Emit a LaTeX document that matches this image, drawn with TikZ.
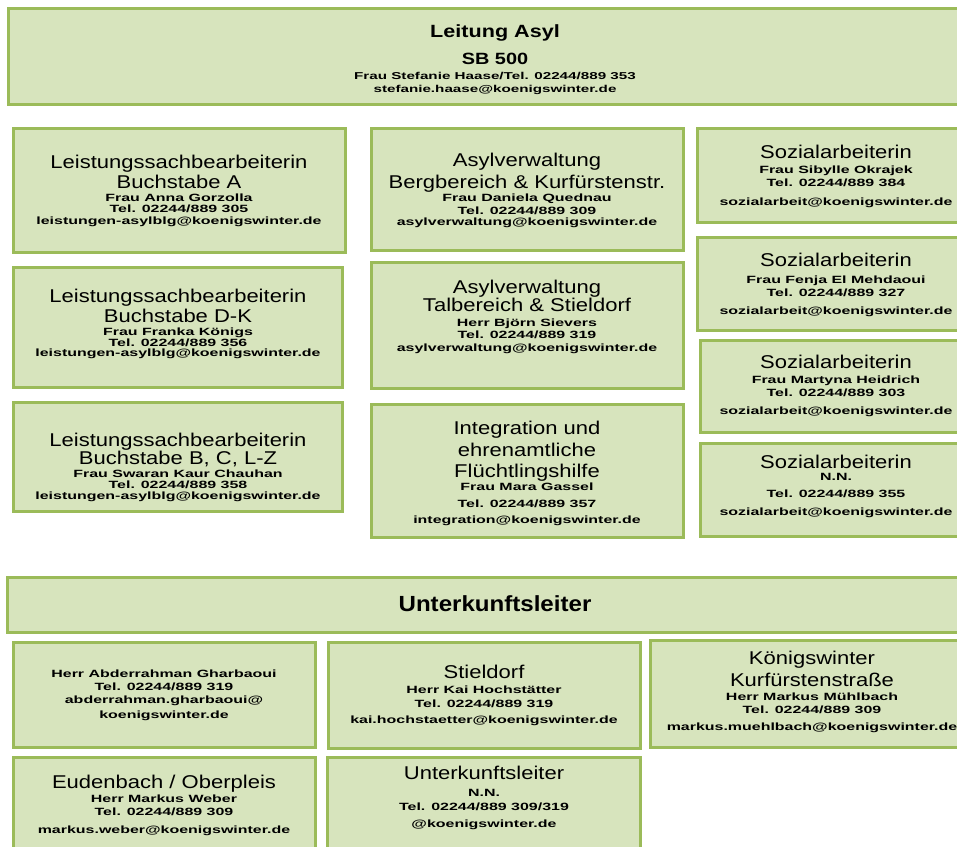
\documentclass[tikz,border=0pt]{standalone}
\usepackage{fontspec}
\setmainfont{Liberation Sans}
\newfontfamily\FBig[FakeStretch=1.19]{Liberation Sans}
\newfontfamily\FSmall[FakeStretch=1.52]{Liberation Sans}
\newfontfamily\FTitle[FakeStretch=1.22]{Liberation Sans}
\newfontfamily\FBar[FakeStretch=1.1]{Liberation Sans}
\definecolor{boxfill}{HTML}{D7E4BD}
\definecolor{boxline}{HTML}{9BBB59}
\newcommand\bigf{\FBig\fontsize{18.5}{18.5}\selectfont}
\newcommand\smf{\FSmall\bfseries\fontsize{10.5}{10.5}\selectfont}
\newcommand\topsmf{\FSmall\bfseries\fontsize{10}{10}\selectfont}
\newcommand\Ln[3]{#2\rule{0pt}{#1pt}\smash{#3}}
\newcommand\Bl[2]{\Ln{#1}{\bigf}{#2}}
\newcommand\Sl[2]{\Ln{#1}{\smf}{#2}}
\newcommand\Stk[1]{\vbox{\offinterlineskip\halign{\hfil##\hfil\cr#1\crcr}}}
\tikzset{
  box/.style={rectangle, draw=boxline, fill=boxfill, line width=3pt, inner sep=0pt, outer sep=0pt, anchor=north west},
  txt/.style={inner sep=0pt, outer sep=0pt, anchor=north, text=black}
}
\begin{document}
\begin{tikzpicture}[x=1pt,y=-1pt]
\fill[white] (0,0) rectangle (957,846);
\useasboundingbox (0,0) rectangle (957,846);

% top box
\node[box, minimum width=975pt, minimum height=96pt] (top) at (8,8) {};
\node[txt] (topt) at (495,25) {\Stk{%
\Ln{12.7}{\FTitle\bfseries\fontsize{17.7}{17.7}\selectfont}{Leitung Asyl}\cr
\Ln{26.7}{\FTitle\bfseries\fontsize{16.3}{16.3}\selectfont}{SB 500}\cr
\Ln{15}{\topsmf}{Frau Stefanie Haase/Tel. 02244/889 353}\cr
\Ln{13}{\topsmf}{stefanie.haase@koenigswinter.de}}};

% left column
\node[box, minimum width=332pt, minimum height=124pt] (L1) at (13,128) {};
\node[txt] (L1t) at (179,155.1) {\Stk{%
\Bl{13.2}{Leistungssachbearbeiterin}\cr
\Bl{20}{Buchstabe A}\cr
\Sl{13}{Frau Anna Gorzolla}\cr
\Sl{11.5}{Tel. 02244/889 305}\cr
\Sl{11.5}{leistungen-asylblg@koenigswinter.de}}};

\node[box, minimum width=329pt, minimum height=120pt] (L2) at (13,267) {};
\node[txt] (L2t) at (178,289.4) {\Stk{%
\Bl{13.2}{Leistungssachbearbeiterin}\cr
\Bl{20}{Buchstabe D-K}\cr
\Sl{12.5}{Frau Franka Königs}\cr
\Sl{11}{Tel. 02244/889 356}\cr
\Sl{10.5}{leistungen-asylblg@koenigswinter.de}}};

\node[box, minimum width=329pt, minimum height=109pt] (L3) at (13,402) {};
\node[txt] (L3t) at (178,433.4) {\Stk{%
\Bl{13.2}{Leistungssachbearbeiterin}\cr
\Bl{18.3}{Buchstabe B, C, L-Z}\cr
\Sl{12.3}{Frau Swaran Kaur Chauhan}\cr
\Sl{11}{Tel. 02244/889 358}\cr
\Sl{11}{leistungen-asylblg@koenigswinter.de}}};

% middle column
\node[box, minimum width=312pt, minimum height=122pt] (M1) at (371,128) {};
\node[txt] (M1t) at (527,153.4) {\Stk{%
\Bl{13.2}{Asylverwaltung}\cr
\Bl{21.7}{Bergbereich \& Kurfürstenstr.}\cr
\Sl{13}{Frau Daniela Quednau}\cr
\Sl{12.7}{Tel. 02244/889 309}\cr
\Sl{11.7}{asylverwaltung@koenigswinter.de}}};

\node[box, minimum width=312pt, minimum height=126pt] (M2) at (371,262) {};
\node[txt] (M2t) at (527,280.1) {\Stk{%
\Bl{13.2}{Asylverwaltung}\cr
\Bl{18.3}{Talbereich \& Stieldorf}\cr
\Sl{15}{Herr Björn Sievers}\cr
\Sl{12.3}{Tel. 02244/889 319}\cr
\Sl{12.7}{asylverwaltung@koenigswinter.de}}};

\node[box, minimum width=312pt, minimum height=133pt] (M3) at (371,404) {};
\node[txt] (M3t) at (527,421.1) {\Stk{%
\Bl{13.2}{Integration und}\cr
\Bl{21.7}{ehrenamtliche}\cr
\Bl{21.7}{Flüchtlingshilfe}\cr
\Sl{13}{Frau Mara Gassel}\cr
\Sl{16.7}{Tel. 02244/889 357}\cr
\Sl{15.7}{integration@koenigswinter.de}}};

% right column
\node[box, minimum width=278pt, minimum height=94pt] (R1) at (697,128) {};
\node[txt] (R1t) at (836,145.1) {\Stk{%
\Bl{13.2}{Sozialarbeiterin}\cr
\Sl{15.3}{Frau Sibylle Okrajek}\cr
\Sl{12.7}{Tel. 02244/889 384}\cr
\Sl{19}{sozialarbeit@koenigswinter.de}}};

\node[box, minimum width=278pt, minimum height=93pt] (R2) at (697,237) {};
\node[txt] (R2t) at (836,253.4) {\Stk{%
\Bl{13.2}{Sozialarbeiterin}\cr
\Sl{17.3}{Frau Fenja El Mehdaoui}\cr
\Sl{12.7}{Tel. 02244/889 327}\cr
\Sl{18}{sozialarbeit@koenigswinter.de}}};

\node[box, minimum width=275pt, minimum height=92pt] (R3) at (700,340) {};
\node[txt] (R3t) at (836,355.1) {\Stk{%
\Bl{13.2}{Sozialarbeiterin}\cr
\Sl{15.6}{Frau Martyna Heidrich}\cr
\Sl{12.7}{Tel. 02244/889 303}\cr
\Sl{18.3}{sozialarbeit@koenigswinter.de}}};

\node[box, minimum width=275pt, minimum height=93pt] (R4) at (700,443) {};
\node[txt] (R4t) at (836,455.1) {\Stk{%
\Bl{13.2}{Sozialarbeiterin}\cr
\Sl{12.3}{N.N.}\cr
\Sl{16.7}{Tel. 02244/889 355}\cr
\Sl{18.3}{sozialarbeit@koenigswinter.de}}};

% Unterkunftsleiter bar
\node[box, minimum width=976pt, minimum height=55pt] (bar) at (7,577) {};
\node[txt] (bart) at (495,595.5) {\Stk{%
\Ln{15.7}{\FBar\bfseries\fontsize{21.9}{21.9}\selectfont}{Unterkunftsleiter}}};

% bottom rows
\node[box, minimum width=302pt, minimum height=105pt] (B1) at (13,642) {};
\node[txt] (B1t) at (164,669.5) {\Stk{%
\Sl{7.5}{Herr Abderrahman Gharbaoui}\cr
\Sl{13.3}{Tel. 02244/889 319}\cr
\Sl{13.3}{abderrahman.gharbaoui@}\cr
\Sl{15}{koenigswinter.de}}};

\node[box, minimum width=312pt, minimum height=106pt] (B2) at (328,642) {};
\node[txt] (B2t) at (484,665.1) {\Stk{%
\Bl{13.2}{Stieldorf}\cr
\Sl{15.6}{Herr Kai Hochstätter}\cr
\Sl{14}{Tel. 02244/889 319}\cr
\Sl{16}{kai.hochstaetter@koenigswinter.de}}};

\node[box, minimum width=324pt, minimum height=107pt] (B3) at (650,640) {};
\node[txt] (B3t) at (812,651.4) {\Stk{%
\Bl{13.2}{Königswinter}\cr
\Bl{22}{Kurfürstenstraße}\cr
\Sl{14}{Herr Markus Mühlbach}\cr
\Sl{13.3}{Tel. 02244/889 309}\cr
\Sl{16.7}{markus.muehlbach@koenigswinter.de}}};

\node[box, minimum width=302pt, minimum height=113pt] (B4) at (13,757) {};
\node[txt] (B4t) at (164,775.1) {\Stk{%
\Bl{13.2}{Eudenbach / Oberpleis}\cr
\Sl{14}{Herr Markus Weber}\cr
\Sl{13.3}{Tel. 02244/889 309}\cr
\Sl{18.3}{markus.weber@koenigswinter.de}}};

\node[box, minimum width=313pt, minimum height=113pt] (B5) at (327,757) {};
\node[txt] (B5t) at (484,766.7) {\Stk{%
\Bl{13.2}{Unterkunftsleiter}\cr
\Sl{16.3}{N.N.}\cr
\Sl{14.3}{Tel. 02244/889 309/319}\cr
\Sl{16.7}{@koenigswinter.de}}};
\end{tikzpicture}
\end{document}
